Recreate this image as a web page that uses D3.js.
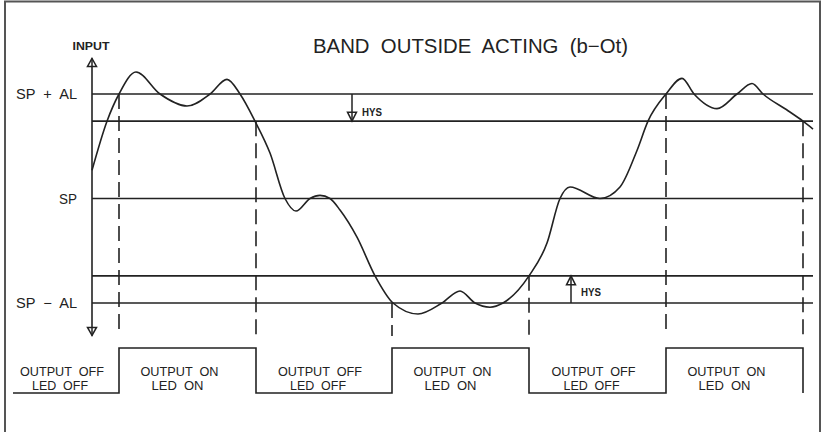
<!DOCTYPE html>
<html>
<head>
<meta charset="utf-8">
<script src="https://cdn.jsdelivr.net/npm/d3@7"></script>
<style>
  html, body { margin: 0; padding: 0; background: #fff; }
  svg { display: block; }
  text { fill: #222; font-family: "Liberation Sans", Arial, sans-serif; }
</style>
</head>
<body>
<div id="chart"></div>
<script>
// alarm setpoints (input units, SP = 0)
var AL = 100, HYS = 26;
var levels = [AL, AL - HYS, 0, -AL + HYS, -AL];
var levelLabelValues = [AL, 0, -AL];
var levelLabels = ["SP  +  AL", "SP", "SP  \u2212  AL"];

// input signal (time, input)
var curveT = [79, 94, 106, 123, 147, 174, 197, 214, 227, 242, 257, 272, 283, 297, 307, 317, 327, 344, 362, 380,
              405, 429, 447, 462, 477, 490, 516, 534, 547, 557, 587, 607, 624, 635, 653, 669, 681, 704, 724, 739,
              750, 775, 790, 800];
var curveV = [27, 74, 100, 121, 100, 88.5, 100, 114, 100, 74, 43.5, 0, -12, 0, 3, 0, -11, -37, -74, -100,
              -110.5, -100, -88.5, -100, -104, -100, -74, -42.6, 0, 11, 0, 11, 46, 74, 100, 115, 100, 86, 100, 110,
              100, 84, 74, 66.5];

// output switching
var switchT = [106, 243, 379, 516, 653, 790];
var switchV = [AL, AL - HYS, -AL, -AL + HYS, AL, AL - HYS];
var outStart = 0;
var states = [0, 1, 0, 1, 0, 1];
var outLine1 = ["OUTPUT  OFF", "OUTPUT  ON", "OUTPUT  OFF", "OUTPUT  ON", "OUTPUT  OFF", "OUTPUT  ON"];
var outLine2 = ["LED  OFF", "LED  ON", "LED  OFF", "LED  ON", "LED  OFF", "LED  ON"];

// hysteresis markers (time, from, to)
var hysT = [339, 558];
var hysFrom = [AL, -AL];
var hysTo = [AL - HYS, -AL + HYS];

var axisT = 79, axisTop = 134, axisBottom = -131;
var lineEndT = 800;

var width = 825, height = 432;
var ink = "#222";

var x = d3.scaleLinear().domain([0, 800]).range([13, 813]);
var y = d3.scaleLinear().domain([-100, 100]).range([303, 94]);
var yOut = d3.scaleLinear().domain([0, 1]).range([393, 348]);

var svg = d3.select("#chart").append("svg")
    .attr("width", width)
    .attr("height", height);

// frame
svg.append("path")
    .attr("d", "M5," + height + "V1.5H820V" + height)
    .attr("fill", "none")
    .attr("stroke", "#555")
    .attr("stroke-width", 2);

function fitText(sel, len) {
  sel.attr("textLength", len).attr("lengthAdjust", "spacingAndGlyphs");
}

// title
svg.append("text")
    .attr("x", 313).attr("y", 53)
    .style("font-size", "20px")
    .style("white-space", "pre")
    .text("BAND  OUTSIDE  ACTING  (b\u2212Ot)")
    .call(fitText, 315);

// threshold lines
svg.selectAll(".level")
    .data(levels)
  .enter().append("line")
    .attr("class", "level")
    .attr("x1", x(axisT)).attr("x2", x(lineEndT))
    .attr("y1", function(d) { return y(d); })
    .attr("y2", function(d) { return y(d); })
    .attr("stroke", ink)
    .attr("stroke-width", 1.6);

svg.selectAll(".levelLabel")
    .data(levelLabelValues)
  .enter().append("text")
    .attr("class", "levelLabel")
    .attr("x", 77)
    .attr("y", function(d) { return y(d) + 5; })
    .attr("text-anchor", "end")
    .style("font-size", "14px")
    .style("white-space", "pre")
    .text(function(d, i) { return levelLabels[i]; })
    .each(function(d, i) { d3.select(this).call(fitText, i == 1 ? 18 : 61); });

// arrow heads
function arrowHead(g, cx, tipY, dir, hw, h) {
  var base = tipY - dir * h;
  g.append("path")
      .attr("d", "M" + cx + "," + tipY + "L" + (cx - hw) + "," + base + "L" + (cx + hw) + "," + base + "Z")
      .attr("fill", "#fff")
      .attr("stroke", ink)
      .attr("stroke-width", 1.5)
      .attr("stroke-linejoin", "miter");
  g.append("line")
      .attr("x1", cx).attr("x2", cx)
      .attr("y1", tipY).attr("y2", base)
      .attr("stroke", ink).attr("stroke-width", 1.5);
}

// input axis
svg.append("line")
    .attr("x1", x(axisT)).attr("x2", x(axisT))
    .attr("y1", y(axisTop)).attr("y2", y(axisBottom))
    .attr("stroke", ink).attr("stroke-width", 1.6);
arrowHead(svg, x(axisT), y(axisTop), -1, 4.5, 8);
arrowHead(svg, x(axisT), y(axisBottom), 1, 4.5, 8);

svg.append("text")
    .attr("x", x(axisT) - 1).attr("y", 50)
    .attr("text-anchor", "middle")
    .style("font-size", "11.5px")
    .style("font-weight", "bold")
    .text("INPUT")
    .call(fitText, 37);

// hysteresis markers
hysT.forEach(function(t, i) {
  var dir = hysTo[i] < hysFrom[i] ? 1 : -1;
  svg.append("line")
      .attr("x1", x(t)).attr("x2", x(t))
      .attr("y1", y(hysFrom[i])).attr("y2", y(hysTo[i]))
      .attr("stroke", ink).attr("stroke-width", 1.5);
  arrowHead(svg, x(t), y(hysTo[i]), dir, 4.5, 9);
  svg.append("text")
      .attr("x", x(t) + 10)
      .attr("y", dir > 0 ? y(hysTo[i]) - 5 : y(hysTo[i]) + 20)
      .style("font-size", "10.5px")
      .style("font-weight", "bold")
      .text("HYS")
      .call(fitText, 20);
});

// dashed switching lines
svg.selectAll(".switch")
    .data(switchT)
  .enter().append("line")
    .attr("class", "switch")
    .attr("x1", function(d) { return x(d); })
    .attr("x2", function(d) { return x(d); })
    .attr("y1", function(d, i) { return y(switchV[i]); })
    .attr("y2", yOut(1) - 12)
    .attr("stroke", ink)
    .attr("stroke-width", 1.6)
    .attr("stroke-dasharray", "15,7");

// input curve
var pts = curveT.map(function(t, i) { return [t, curveV[i]]; });
var line = d3.line()
    .x(function(d) { return x(d[0]); })
    .y(function(d) { return y(d[1]); })
    .curve(d3.curveMonotoneX);

svg.append("path")
    .datum(pts)
    .attr("d", line)
    .attr("fill", "none")
    .attr("stroke", ink)
    .attr("stroke-width", 1.6);

// output waveform
var bounds = [outStart].concat(switchT);
var wave = [];
states.forEach(function(s, i) {
  wave.push([bounds[i], s]);
  wave.push([bounds[i + 1], s]);
});
wave.push([bounds[bounds.length - 1], 0]);

svg.append("path")
    .datum(wave)
    .attr("d", d3.line()
        .x(function(d) { return x(d[0]); })
        .y(function(d) { return yOut(d[1]); }))
    .attr("fill", "none")
    .attr("stroke", ink)
    .attr("stroke-width", 1.6);

var labelW1 = { "OUTPUT  OFF": 84, "OUTPUT  ON": 78 };
var labelW2 = { "LED  OFF": 56, "LED  ON": 52 };

states.forEach(function(s, i) {
  var cx = x((bounds[i] + bounds[i + 1]) / 2) + (s ? -8 : -4);
  svg.append("text")
      .attr("x", cx).attr("y", 376)
      .attr("text-anchor", "middle")
      .style("font-size", "13.5px")
      .style("white-space", "pre")
      .text(outLine1[i])
      .call(fitText, labelW1[outLine1[i]]);
  svg.append("text")
      .attr("x", cx - 2).attr("y", 390)
      .attr("text-anchor", "middle")
      .style("font-size", "13.5px")
      .style("white-space", "pre")
      .text(outLine2[i])
      .call(fitText, labelW2[outLine2[i]]);
});
</script>
</body>
</html>
